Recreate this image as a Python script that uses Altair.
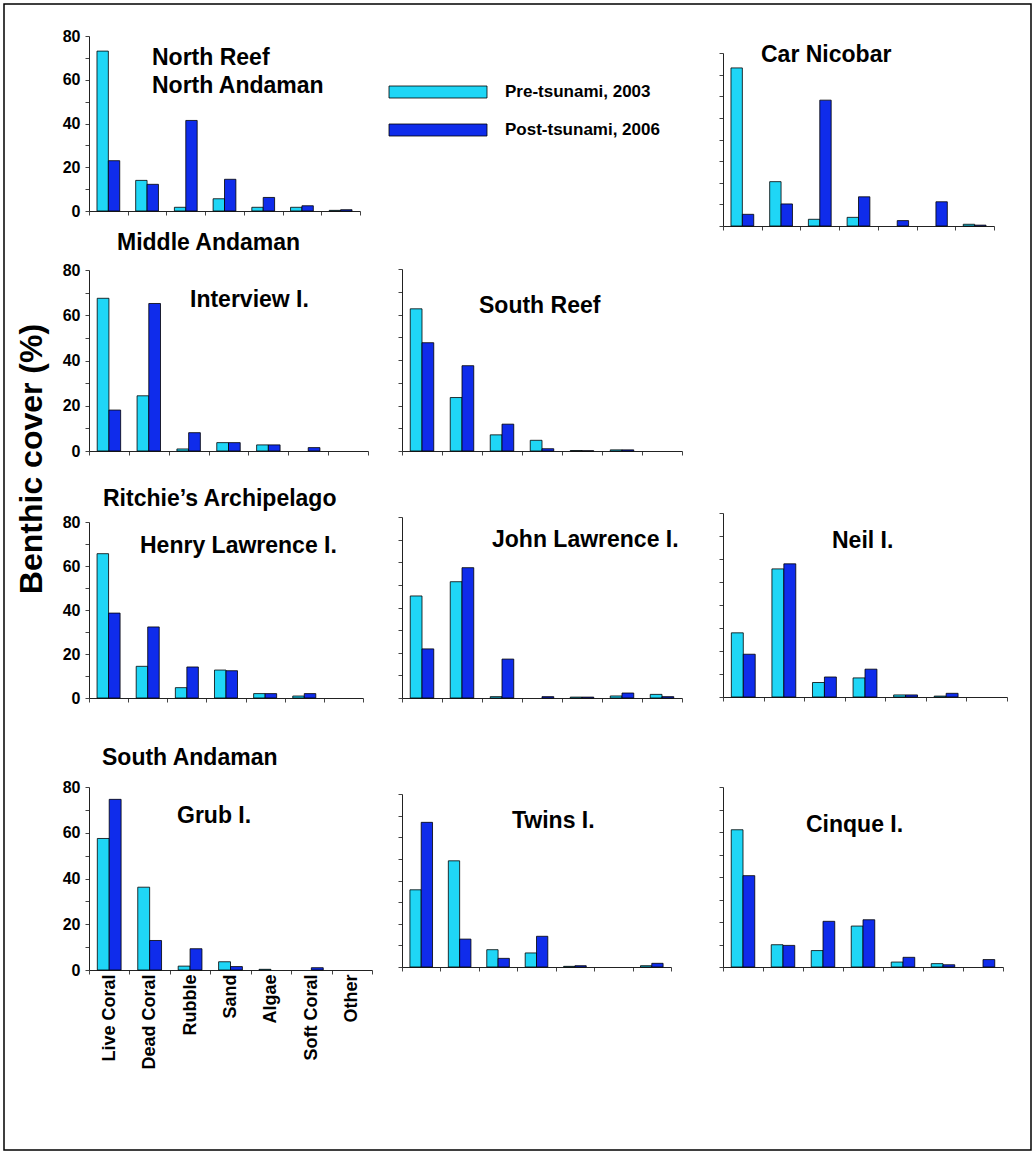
import altair as alt
import pandas as pd

FONT = "Liberation Sans"

CATEGORIES = ["Live Coral", "Dead Coral", "Rubble", "Sand", "Algae", "Soft Coral", "Other"]
SERIES = ["Pre-tsunami, 2003", "Post-tsunami, 2006"]
COLORS = ["#1fd6f6", "#0f2ceb"]

# Benthic cover (%) per site, in CATEGORIES order
NORTH_REEF_PRE = [73.1, 14.0, 1.7, 5.6, 1.7, 1.7, 0.3]
NORTH_REEF_POST = [23.0, 12.2, 41.4, 14.5, 6.2, 2.4, 0.6]
CAR_NICOBAR_PRE = [73.1, 20.5, 3.1, 4.0, 0.0, 0.0, 0.8]
CAR_NICOBAR_POST = [5.4, 10.2, 58.2, 13.5, 2.5, 11.2, 0.4]
INTERVIEW_PRE = [67.5, 24.4, 0.9, 3.7, 2.7, 0.0, 0.0]
INTERVIEW_POST = [18.1, 65.2, 8.1, 3.7, 2.7, 1.5, 0.0]
SOUTH_REEF_PRE = [62.5, 23.5, 7.1, 4.7, 0.2, 0.5, 0.0]
SOUTH_REEF_POST = [47.6, 37.5, 11.8, 1.0, 0.1, 0.5, 0.0]
HENRY_PRE = [65.6, 14.4, 4.7, 12.7, 2.0, 0.9, 0.0]
HENRY_POST = [38.6, 32.3, 14.1, 12.4, 2.0, 2.0, 0.0]
JOHN_PRE = [45.1, 51.4, 0.6, 0.0, 0.4, 0.9, 1.6]
JOHN_POST = [21.7, 57.6, 17.2, 0.6, 0.4, 2.2, 0.6]
NEIL_PRE = [27.9, 55.7, 6.3, 8.3, 0.9, 0.4, 0.0]
NEIL_POST = [18.6, 57.9, 8.7, 12.1, 0.9, 1.6, 0.0]
GRUB_PRE = [57.5, 36.2, 1.7, 3.6, 0.3, 0.0, 0.0]
GRUB_POST = [74.6, 12.9, 9.3, 1.5, 0.0, 1.0, 0.0]
TWINS_PRE = [35.7, 49.1, 8.0, 6.5, 0.3, 0.0, 0.6]
TWINS_POST = [66.9, 12.9, 4.0, 14.2, 0.6, 0.0, 1.7]
CINQUE_PRE = [61.0, 9.9, 7.3, 18.2, 2.2, 1.5, 0.0]
CINQUE_POST = [40.6, 9.6, 20.3, 21.0, 4.3, 1.0, 3.3]

color_scale = alt.Scale(domain=SERIES, range=COLORS)


def text_layer(text, x, y, size=23, angle=0, align="left", baseline="alphabetic"):
    props = dict(align=align, baseline=baseline, font=FONT, fontSize=size,
                 fontWeight="bold", color="black")
    if angle:
        props["angle"] = angle
    return alt.Chart(pd.DataFrame({"text": [text]})).mark_text(**props).encode(
        x=alt.value(x), y=alt.value(y), text="text:N"
    )


def panel(pre, post, width, height, top, texts, y_labels=False, x_labels=False, extra=()):
    df = pd.DataFrame({
        "category": CATEGORIES * 2,
        "series": [SERIES[0]] * len(CATEGORIES) + [SERIES[1]] * len(CATEGORIES),
        "value": list(pre) + list(post),
    })
    # drop empty bars so that no outline is drawn on the baseline
    df = df[df["value"] > 0]
    y_axis_kw = dict(values=list(range(0, 81, 10)), grid=False, title=None,
                     domainColor="#222", tickColor="#444", tickSize=4,
                     labelFont=FONT, labelFontSize=16, labelFontWeight="bold",
                     labelColor="black", labelPadding=5)
    if y_labels:
        y_axis_kw["labelExpr"] = "datum.value % 20 == 0 ? datum.label : ''"
    else:
        y_axis_kw["labels"] = False
    x_axis_kw = dict(title=None, tickBand="extent", domainColor="#222", tickColor="#444",
                     tickSize=4, grid=False)
    if x_labels:
        x_axis_kw.update(labelAngle=270, labelFont=FONT, labelFontSize=18,
                         labelFontWeight="bold", labelColor="black", labelPadding=0)
    else:
        x_axis_kw["labels"] = False

    bars = alt.Chart(df).mark_bar(stroke="black", strokeWidth=0.8).encode(
        x=alt.X("category:N", sort=CATEGORIES,
                scale=alt.Scale(domain=CATEGORIES, paddingInner=0, paddingOuter=0),
                axis=alt.Axis(**x_axis_kw)),
        xOffset=alt.XOffset("series:N", sort=SERIES,
                            scale=alt.Scale(domain=SERIES, paddingInner=0, paddingOuter=0.7)),
        y=alt.Y("value:Q", scale=alt.Scale(domain=[0, 80], range=[height, top], nice=False),
                axis=alt.Axis(**y_axis_kw)),
        color=alt.Color("series:N", scale=color_scale, legend=None),
    )
    layers = [bars] + [text_layer(*t) for t in texts] + list(extra)
    return alt.layer(*layers).properties(width=width, height=height)


def spacer(width, height):
    return alt.Chart(pd.DataFrame({"a": [0]})).mark_point(opacity=0).encode(
        x=alt.value(0), y=alt.value(0)
    ).properties(width=width, height=height)


# legend swatches and page frame, drawn in the first panel
legend_layers = []
for i, (s, yc) in enumerate(zip(SERIES, [56, 94])):
    legend_layers.append(
        alt.Chart(pd.DataFrame({"series": [s]})).mark_rect(stroke="black", strokeWidth=0.8).encode(
            x=alt.value(300), x2=alt.value(398), y=alt.value(yc - 6), y2=alt.value(yc + 6),
            color=alt.Color("series:N", scale=color_scale, legend=None),
        )
    )
    legend_layers.append(text_layer(s, 416, yc + 5, size=17))

frame = alt.Chart(pd.DataFrame({"a": [0]})).mark_rect(
    fillOpacity=0, stroke="black", strokeWidth=1.5
).encode(x=alt.value(-85), x2=alt.value(942), y=alt.value(-32), y2=alt.value(1114))

north_reef = panel(NORTH_REEF_PRE, NORTH_REEF_POST, 271, 175, 0,
                   [("North Reef", 63, 29), ("North Andaman", 63, 57)],
                   y_labels=True, extra=legend_layers + [frame])
car_nicobar = panel(CAR_NICOBAR_PRE, CAR_NICOBAR_POST, 271, 190, 17,
                    [("Car Nicobar", 38, 26)])
interview = panel(INTERVIEW_PRE, INTERVIEW_POST, 279, 182, 1,
                  [("Middle Andaman", 28, -19), ("Interview I.", 101, 38),
                   ("Benthic cover (%)", -57, 190, 32, 270, "center", "middle")],
                  y_labels=True)
south_reef = panel(SOUTH_REEF_PRE, SOUTH_REEF_POST, 280, 182, 0,
                   [("South Reef", 77, 44)])
henry = panel(HENRY_PRE, HENRY_POST, 274, 185, 9,
              [("Ritchie\u2019s Archipelago", 14, -7), ("Henry Lawrence I.", 51, 40)],
              y_labels=True)
john = panel(JOHN_PRE, JOHN_POST, 280, 185, 4, [("John Lawrence I.", 90, 34)])
neil = panel(NEIL_PRE, NEIL_POST, 284, 184, 0, [("Neil I.", 109, 35)])
grub = panel(GRUB_PRE, GRUB_POST, 283, 229, 46,
             [("South Andaman", 13, 24), ("Grub I.", 88, 82)],
             y_labels=True, x_labels=True)
twins = panel(TWINS_PRE, TWINS_POST, 269, 226, 53, [("Twins I.", 110, 87)])
cinque = panel(CINQUE_PRE, CINQUE_POST, 280, 226, 46, [("Cinque I.", 83, 91)])

chart = alt.concat(
    north_reef, spacer(291, 1), car_nicobar,
    interview, south_reef, spacer(1, 201),
    henry, john, neil,
    grub, twins, cinque,
    columns=3,
    spacing={"row": 43, "column": 30},
    align="each",
    bounds="flush",
).resolve_scale(
    x="independent", y="independent", xOffset="independent"
).properties(
    padding={"left": 3, "top": 3, "right": 3, "bottom": 3},
    background="white",
).configure_view(stroke=None)

chart.save("out.html", embed_options={"renderer": "svg", "actions": False})
